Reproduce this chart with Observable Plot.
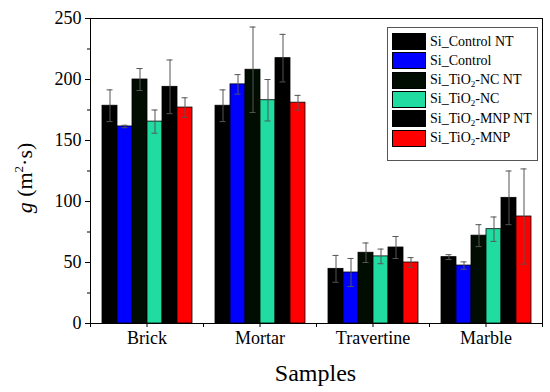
<!DOCTYPE html>
<html><head><meta charset="utf-8">
<script src="https://cdn.jsdelivr.net/npm/d3@7"></script>
<script src="https://cdn.jsdelivr.net/npm/@observablehq/plot@0.6"></script>
<style>
body{margin:0;background:#fff;}
#wrap{position:relative;width:550px;height:392px;font-family:"Liberation Serif",serif;}
#legend{position:absolute;left:387px;top:27px;width:151px;height:134px;box-sizing:border-box;border:1px solid #555;background:#fff;}
.row{position:absolute;left:4px;height:17px;display:flex;align-items:center;}
.sw{width:34px;height:17px;box-sizing:border-box;border:1px solid #000;margin-right:4px;}
.lab{font-size:14px;color:#000;white-space:nowrap;}
.lab sub{font-size:9px;vertical-align:-3px;line-height:0;}
</style></head><body><div id="wrap"></div>
<script>
const categories = ["Brick", "Mortar", "Travertine", "Marble"];
const series = ["Si_Control NT", "Si_Control", "Si_TiO2-NC NT", "Si_TiO2-NC", "Si_TiO2-MNP NT", "Si_TiO2-MNP"];
const colors = ["#000000", "#0000ff", "#000d00", "#21dca0", "#000000", "#ff0000"];

const controlNT = [178.5, 178.5, 44.8, 54.4];
const control   = [161.5, 196.0, 41.8, 47.5];
const ncNT      = [200.0, 208.0, 58.0, 72.0];
const nc        = [165.5, 183.0, 55.0, 77.3];
const mnpNT     = [194.0, 217.5, 62.3, 103.0];
const mnp       = [177.0, 181.0, 50.0, 87.7];

const controlNTErr = [13, 13, 11, 2];
const controlErr   = [1, 8, 11.5, 3];
const ncNTErr      = [9, 35, 8, 9];
const ncErr        = [9.5, 17, 6, 10];
const mnpNTErr     = [22, 19.5, 9, 22];
const mnpErr       = [8, 6, 4, 39];

const yTicks = [0, 50, 100, 150, 200, 250];
const yMinor = [25, 75, 125, 175, 225];

const values = [controlNT, control, ncNT, nc, mnpNT, mnp];
const errors = [controlNTErr, controlErr, ncNTErr, ncErr, mnpNTErr, mnpErr];
const data = [];
categories.forEach((c, i) => series.forEach((s, j) => data.push({cat: c, series: s, value: values[j][i], err: errors[j][i]})));

const W = 550, H = 392, mT = 18, mB = 69, mL = 88, mR = 7;
const font = "'Liberation Serif', serif";

const plot = Plot.plot({
  width: W, height: H, marginTop: mT, marginBottom: mB, marginLeft: mL, marginRight: mR,
  style: {fontFamily: font, background: "#fff", color: "#000"},
  fx: {domain: categories, padding: 0},
  x: {domain: series, paddingInner: 0, paddingOuter: 0.76, axis: null},
  y: {domain: [0, 250]},
  color: {domain: series, range: colors},
  marks: [
    Plot.barY(data, {fx: "cat", x: "series", y: "value", fill: "series", stroke: "#000", strokeWidth: 0.8}),
    Plot.ruleX(data, {fx: "cat", x: "series", y1: d => d.value - d.err, y2: d => d.value + d.err, stroke: "#555"}),
    Plot.tickY(data, {fx: "cat", x: "series", y: d => d.value + d.err, stroke: "#555", inset: 4.5}),
    Plot.tickY(data, {fx: "cat", x: "series", y: d => d.value - d.err, stroke: "#555", inset: 4.5}),
    Plot.frame({facet: "super", stroke: "#000"}),
    Plot.frame({anchor: "left", insetTop: H - mT - mB, insetBottom: -3, stroke: "#000"}),
    Plot.frame({anchor: "right", insetTop: H - mT - mB, insetBottom: -3, stroke: "#000"}),
    Plot.axisY({ticks: yTicks, tickSize: 5, fontSize: 18, tickPadding: 4, label: null}),
    Plot.axisY({ticks: yMinor, tickSize: 3, text: null, label: null}),
    Plot.axisFx({anchor: "bottom", tickSize: 4, fontSize: 18, tickPadding: 4, label: null})
  ]
});

const wrap = document.getElementById("wrap");
wrap.appendChild(plot);

const svg = d3.select(plot);
const yl = svg.append("text")
  .attr("transform", "translate(32,178) rotate(-90)")
  .attr("text-anchor", "middle")
  .attr("font-size", 22).attr("font-family", font).attr("fill", "#000");
yl.append("tspan").attr("font-style", "italic").text("g");
yl.append("tspan").text(" (m");
yl.append("tspan").attr("font-size", 13).attr("dy", -9).text("2");
yl.append("tspan").attr("dy", 9).text("·s)");

svg.append("text")
  .attr("x", (mL + W - mR) / 2).attr("y", 381)
  .attr("text-anchor", "middle")
  .attr("font-size", 24).attr("font-family", font).attr("fill", "#000")
  .text("Samples");

const legend = document.createElement("div");
legend.id = "legend";
series.forEach((s, k) => {
  const row = document.createElement("div");
  row.className = "row";
  row.style.top = (5 + k * 19.3) + "px";
  const sw = document.createElement("div");
  sw.className = "sw";
  sw.style.background = colors[k];
  const lab = document.createElement("span");
  lab.className = "lab";
  lab.innerHTML = s.replace("TiO2", "TiO<sub>2</sub>");
  row.appendChild(sw); row.appendChild(lab);
  legend.appendChild(row);
});
wrap.appendChild(legend);
</script>
</body></html>
